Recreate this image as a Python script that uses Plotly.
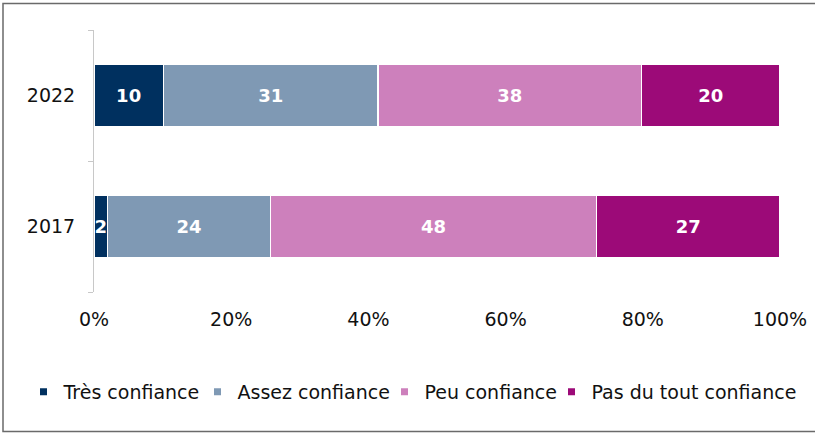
import plotly.graph_objects as go

years = ["2017", "2022"]
series_names = ["Très confiance", "Assez confiance", "Peu confiance", "Pas du tout confiance"]
tres = [2, 10]
assez = [24, 31]
peu = [48, 38]
pas = [27, 20]
colors = ["#00305f", "#7f99b4", "#cd80bc", "#9c0a78"]
x_ticks = [0, 20, 40, 60, 80, 100]
legend_widths = [129, 142, 122, 206]

W, H = 815, 435
L, R, T, B = 94, 35, 30, 143
pw, ph = W - L - R, H - T - B

def px_x(p):
    return (p - L) / pw

def px_y(p):
    return (H - B - p) / ph

fig = go.Figure()
for name, vals, col in zip(series_names, [tres, assez, peu, pas], colors):
    fig.add_trace(go.Bar(
        y=years, x=vals, orientation="h", name=name,
        marker=dict(color=col, line=dict(color="white", width=1.5)),
        text=[str(v) for v in vals], textposition="inside",
        insidetextanchor="middle",
        textfont=dict(family="DejaVu Sans", size=18, color="white", weight="bold"),
        showlegend=False, hoverinfo="skip",
    ))
for name, col, lw in zip(series_names, colors, legend_widths):
    fig.add_trace(go.Scatter(
        x=[None], y=[None], mode="markers", name=name,
        marker=dict(symbol="square", size=7, color=col),
        legendwidth=lw, showlegend=True,
    ))

fig.update_layout(
    width=W, height=H,
    margin=dict(l=L, r=R, t=T, b=B, autoexpand=False),
    paper_bgcolor="white", plot_bgcolor="white",
    barmode="stack", barnorm="percent", bargap=0.527,
    font=dict(family="DejaVu Sans", size=19, color="#111111"),
    uniformtext=dict(minsize=18, mode="show"),
    showlegend=True,
    legend=dict(orientation="h", x=px_x(23.5), xanchor="left",
                y=px_y(392), yanchor="middle",
                font=dict(family="DejaVu Sans", size=19, color="#111111"),
                itemwidth=30, bgcolor="rgba(0,0,0,0)", traceorder="normal"),
    xaxis=dict(range=[0, 100], tickvals=x_ticks,
               ticktext=[f"{v}%" for v in x_ticks],
               showgrid=False, zeroline=False, showline=False,
               ticks="", ticklabelstandoff=14, fixedrange=True,
               automargin=False),
    yaxis=dict(type="category", categoryorder="array", categoryarray=years,
               range=[-0.5, 1.5],
               showline=True, linecolor="#c8c8c8", linewidth=1,
               ticks="outside", ticklen=5, tickcolor="#c8c8c8",
               tickson="boundaries", showgrid=False, zeroline=False,
               ticklabelstandoff=14, fixedrange=True, automargin=False),
    shapes=[dict(type="rect", xref="paper", yref="paper",
                 x0=px_x(3), x1=px_x(830), y0=px_y(431.5), y1=px_y(3.5),
                 line=dict(color="#6a6a6a", width=1.5), layer="below")],
)

fig.write_html(
    "out.html",
    config={"displayModeBar": False},
    post_script="document.body.style.margin='0';document.body.style.padding='0';",
)
